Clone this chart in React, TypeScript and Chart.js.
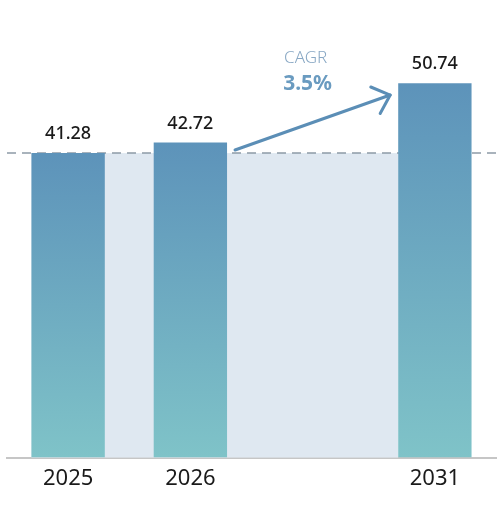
import React, { useEffect, useRef } from "react";
import { Chart, registerables } from "chart.js";

Chart.register(...registerables);

const categories = ["2025", "2026", "", "2031"];
const values: (number | null)[] = [41.28, 42.72, null, 50.74];
const valueLabels = ["41.28", "42.72", "", "50.74"];
const baseValue = 41.28;
const cagrTitle = "CAGR";
const cagrValue = "3.5%";
const arrowStartValue = 41.7;
const arrowEndValue = 49.15;

const FONT = "'Noto Sans', sans-serif";

const overlayPlugin = {
  id: "overlay",
  beforeDatasetsDraw(chart: any) {
    const { ctx, chartArea, scales } = chart;
    const meta = chart.getDatasetMeta(0);
    const b0 = meta.data[0];
    const b3 = meta.data[3];
    const y = scales.y;
    const top = y.getPixelForValue(baseValue);
    const bottom = y.getPixelForValue(0);
    ctx.save();
    ctx.fillStyle = "#dfe8f1";
    const left = b0.x - b0.width / 2;
    const right = b3.x - b3.width / 2;
    ctx.fillRect(left, top, right - left, bottom - top);
    ctx.setLineDash([9, 6]);
    ctx.strokeStyle = "#8d9aa6";
    ctx.lineWidth = 1.5;
    ctx.beginPath();
    ctx.moveTo(chartArea.left, top);
    ctx.lineTo(chart.width, top);
    ctx.stroke();
    ctx.restore();
  },
  afterDatasetsDraw(chart: any) {
    const { ctx, scales } = chart;
    const meta = chart.getDatasetMeta(0);
    const y = scales.y;
    ctx.save();
    ctx.fillStyle = "#1a1a1a";
    ctx.font = `500 18px ${FONT}`;
    ctx.textAlign = "center";
    ctx.textBaseline = "middle";
    meta.data.forEach((bar: any, i: number) => {
      if (values[i] == null) return;
      ctx.fillText(valueLabels[i], bar.x, y.getPixelForValue(values[i] as number) - 19);
    });

    const b1 = meta.data[1];
    const b3 = meta.data[3];
    const x0 = b1.x + b1.width / 2 + 8;
    const y0 = y.getPixelForValue(arrowStartValue);
    const x1 = b3.x - b3.width / 2 - 8;
    const y1 = y.getPixelForValue(arrowEndValue);
    ctx.strokeStyle = "#5b8eb6";
    ctx.lineWidth = 3;
    ctx.lineCap = "round";
    ctx.lineJoin = "round";
    ctx.beginPath();
    ctx.moveTo(x0, y0);
    ctx.lineTo(x1, y1);
    ctx.stroke();
    const ang = Math.atan2(y0 - y1, x0 - x1);
    const len = 21;
    const spread = (42 * Math.PI) / 180;
    ctx.beginPath();
    ctx.moveTo(x1 + len * Math.cos(ang + spread), y1 + len * Math.sin(ang + spread));
    ctx.lineTo(x1, y1);
    ctx.lineTo(x1 + len * Math.cos(ang - spread), y1 + len * Math.sin(ang - spread));
    ctx.stroke();

    const cx = (b1.x + b1.width / 2 + b3.x - b3.width / 2) / 2 - 7;
    ctx.fillStyle = "#89a8c4";
    ctx.font = `300 17px ${FONT}`;
    ctx.fillText(cagrTitle, cx, 58);
    ctx.fillStyle = "#6a9bc0";
    ctx.font = `bold 21px ${FONT}`;
    ctx.fillText(cagrValue, cx + 2, 84);
    ctx.restore();
  },
};

export default function App() {
  const ref = useRef<HTMLCanvasElement | null>(null);
  useEffect(() => {
    if (!ref.current) return;
    const chart = new Chart(ref.current, {
      type: "bar",
      data: {
        labels: categories,
        datasets: [
          {
            data: values as any,
            barPercentage: 0.6,
            categoryPercentage: 1.0,
            backgroundColor: (ctx: any) => {
              const c = ctx.chart;
              const area = c.chartArea;
              if (!area || ctx.raw == null) return "#6aa3c0";
              const yTop = c.scales.y.getPixelForValue(ctx.raw);
              const yBot = c.scales.y.getPixelForValue(0);
              const g = c.ctx.createLinearGradient(0, yTop, 0, yBot);
              g.addColorStop(0, "#5d93ba");
              g.addColorStop(1, "#7fc3c8");
              return g;
            },
          },
        ],
      },
      options: {
        animation: false,
        responsive: true,
        maintainAspectRatio: false,
        layout: { padding: { left: 7, right: 6, top: 15, bottom: 9 } },
        plugins: { legend: { display: false }, tooltip: { enabled: false } },
        scales: {
          x: {
            grid: { display: false, drawTicks: false },
            border: { display: true, color: "#c6c6c6", width: 2 },
            ticks: { color: "#1a1a1a", font: { family: FONT, size: 22 }, padding: 8 },
          },
          y: { display: false, min: 0, max: 60 },
        },
      },
      plugins: [overlayPlugin],
    });
    return () => chart.destroy();
  }, []);
  return (
    <div style={{ position: "absolute", left: 0, top: 0, width: 502, height: 509 }}>
      <canvas ref={ref} />
    </div>
  );
}
